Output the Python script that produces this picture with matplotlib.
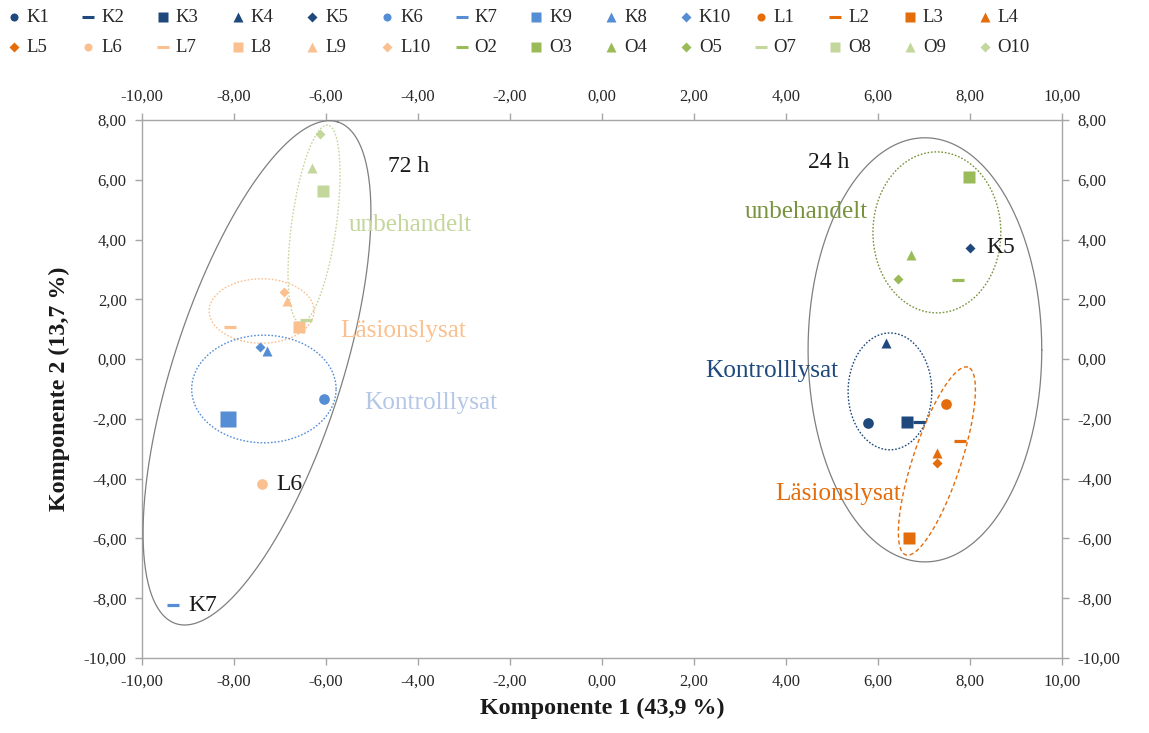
import numpy as np
import matplotlib
matplotlib.use("Agg")
import matplotlib.pyplot as plt
from matplotlib.lines import Line2D
from matplotlib.ticker import FuncFormatter, MultipleLocator

plt.rcParams["font.family"] = ["Liberation Serif", "DejaVu Serif"]

# ---- PCA scores (Komponente 1, Komponente 2) per sample ----
names = ["K1", "K2", "K3", "K4", "K5", "K6", "K7", "K9", "K8", "K10",
         "L1", "L2", "L3", "L4", "L5", "L6", "L7", "L8", "L9", "L10",
         "O2", "O3", "O4", "O5", "O7", "O8", "O9", "O10"]
comp1 = [5.78, 6.89, 6.63, 6.17, 8.00, -6.04, -9.33, -8.13, -7.28, -7.43,
         7.48, 7.78, 6.67, 7.28, 7.28, -7.39, -8.09, -6.59, -6.85, -6.91,
         7.74, 7.98, 6.72, 6.43, -6.43, -6.07, -6.30, -6.13]
comp2 = [-2.14, -2.10, -2.10, 0.54, 3.72, -1.33, -8.23, -2.00, 0.27, 0.41,
         -1.50, -2.74, -5.98, -3.14, -3.48, -4.18, 1.07, 1.07, 1.94, 2.25,
         2.65, 6.09, 3.48, 2.68, 1.31, 5.62, 6.39, 7.53]

# ---- styling per sample ----
DK_BLUE, LT_BLUE = "#1F497D", "#558ED5"
ORANGE, LT_ORANGE = "#E46C0A", "#FAC090"
GREEN, LT_GREEN = "#9BBB59", "#C3D69B"
colors = [DK_BLUE] * 5 + [LT_BLUE] * 5 + [ORANGE] * 5 + [LT_ORANGE] * 5 + [GREEN] * 4 + [LT_GREEN] * 4
shapes = ["o", "_", "s", "^", "D", "o", "_", "s", "^", "D",
          "o", "_", "s", "^", "D", "o", "_", "s", "^", "D",
          "_", "s", "^", "D", "_", "s", "^", "D"]
plot_size = {"o": 7.7, "_": 8.6, "s": 8.3, "^": 7.6, "D": 5.6}
legend_size = {"o": 5.8, "_": 8.0, "s": 6.6, "^": 7.4, "D": 5.0}
big_marker = {"K9": 11.5}

W, H = 1149, 733
fig = plt.figure(figsize=(W / 100, H / 100), dpi=100)
ax = fig.add_axes([142 / W, 75 / H, 920 / W, 538 / H])
ax.set_xlim(-10, 10)
ax.set_ylim(-10, 8)

for n, x, y, c, m in zip(names, comp1, comp2, colors, shapes):
    ms = big_marker.get(n, plot_size[m])
    if m == "_":
        ax.plot(x, y, marker=m, ls="none", ms=ms, mew=2.3, color=c, zorder=5)
    else:
        ax.plot(x, y, marker=m, ls="none", ms=ms, mec="none", mfc=c, zorder=5)

# ---- group ellipses; semi-axes in x-units of screen length, angle on screen ----
fig.canvas.draw()
bb = ax.get_window_extent()
yr = (bb.width / 20.0) / (bb.height / 18.0)  # y data units per x data unit of screen length


def ellipse(cx, cy, a, b, ang, **kw):
    t = np.linspace(0, 2 * np.pi, 400)
    th = np.deg2rad(ang)
    u = a * np.cos(t) * np.cos(th) - b * np.sin(t) * np.sin(th)
    v = a * np.cos(t) * np.sin(th) + b * np.sin(t) * np.cos(th)
    ax.plot(cx + u, cy + v * yr, zorder=3, **kw)


dots = dict(lw=1.0, ls=(0, (1.2, 1.3)))
ellipse(-7.50, -0.46, 5.73, 1.83, 72.1, color="#7F7F7F", lw=0.9)
ellipse(7.02, 0.31, 2.54, 4.61, 0, color="#7F7F7F", lw=0.9)
ellipse(-6.26, 4.52, 2.17, 0.485, 82.1, color=LT_GREEN, **dots)
ellipse(-7.40, 1.61, 1.14, 0.70, 0, color=LT_ORANGE, **dots)
ellipse(-7.35, -1.00, 1.57, 1.17, 0, color=LT_BLUE, **dots)
ellipse(7.28, 4.24, 1.39, 1.75, 0, color="#77933C", **dots)
ellipse(6.26, -1.08, 0.91, 1.27, 0, color=DK_BLUE, **dots)
ellipse(7.28, -3.41, 2.15, 0.52, 71.65, color=ORANGE, lw=1.0, ls=(0, (3, 2)))

# ---- annotations ----
fs, gs = 17, 18.2
ax.text(-4.65, 6.43, "72 h", fontsize=fs, color="#1A1A1A", va="center")
ax.text(4.48, 6.59, "24 h", fontsize=fs, color="#1A1A1A", va="center")
ax.text(-5.5, 4.49, "unbehandelt", fontsize=gs, color=LT_GREEN, va="center")
ax.text(-5.7, 0.94, "Läsionslysat", fontsize=gs, color=LT_ORANGE, va="center")
ax.text(-5.17, -1.47, "Kontrolllysat", fontsize=gs, color="#B4C7E7", va="center")
ax.text(3.11, 4.92, "unbehandelt", fontsize=gs, color="#77933C", va="center")
ax.text(2.24, -0.40, "Kontrolllysat", fontsize=gs, color=DK_BLUE, va="center")
ax.text(3.76, -4.51, "Läsionslysat", fontsize=gs, color=ORANGE, va="center")
ax.text(-7.07, -4.21, "L6", fontsize=fs, color="#1A1A1A", va="center")
ax.text(-9.0, -8.23, "K7", fontsize=fs, color="#1A1A1A", va="center")
ax.text(8.35, 3.72, "K5", fontsize=fs, color="#1A1A1A", va="center")

# ---- axes ----
fmt = FuncFormatter(lambda v, p: f"{v:.2f}".replace(".", ","))
ax.xaxis.set_major_locator(MultipleLocator(2))
ax.yaxis.set_major_locator(MultipleLocator(2))
ax.xaxis.set_major_formatter(fmt)
ax.yaxis.set_major_formatter(fmt)
ax.tick_params(axis="both", which="major", direction="out", length=5, width=1,
               color="#A6A6A6", labelsize=12, labelcolor="#262626",
               top=True, right=True, labeltop=True, labelright=True, pad=6)
for s in ax.spines.values():
    s.set_color("#A6A6A6")
    s.set_linewidth(1.0)
ax.set_xlabel("Komponente 1 (43,9 %)", fontsize=17.3, fontweight="bold", color="#1A1A1A", labelpad=6)
ax.set_ylabel("Komponente 2 (13,7 %)", fontsize=17.3, fontweight="bold", color="#1A1A1A", labelpad=10)

# ---- legend: two rows of fourteen entries ----
pitch = 74.7
for i, (n, c, m) in enumerate(zip(names, colors, shapes)):
    row, col = divmod(i, 14)
    px = 13.5 + col * pitch
    py = 17 + row * 30
    fx, fy = px / W, 1 - py / H
    if m == "_":
        mk = Line2D([fx], [fy], marker=m, ls="none", ms=legend_size[m], mew=2.2, color=c,
                    transform=fig.transFigure)
    else:
        mk = Line2D([fx], [fy], marker=m, ls="none", ms=legend_size[m], mec="none", mfc=c,
                    transform=fig.transFigure)
    fig.add_artist(mk)
    fig.text((px + 13) / W, fy, n, fontsize=13.5, color="#262626", va="center", ha="left")

fig.savefig("out.png", dpi=100)
